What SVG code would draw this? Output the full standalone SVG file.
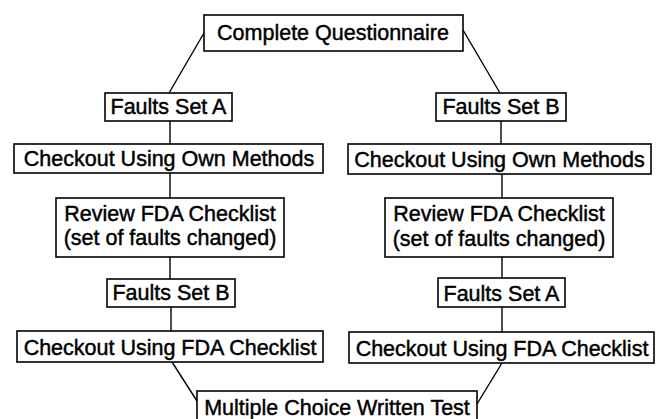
<svg xmlns="http://www.w3.org/2000/svg" width="656" height="419" viewBox="0 0 656 419">
<style>
.box{fill:#fff;stroke:#000;stroke-width:1.6}
.t{font-family:"Liberation Sans",Arial,sans-serif;font-size:21.5px;fill:#000;stroke:#000;stroke-width:0.45;text-anchor:middle}
.c{stroke:#000;stroke-width:1.4;fill:none}
</style>
<rect width="656" height="419" fill="#fff"/>
<g id="connectors">
<line class="c" x1="204" y1="33" x2="169" y2="93"/>
<line class="c" x1="463" y1="30" x2="500" y2="93"/>
<line class="c" x1="170" y1="121" x2="170" y2="144"/>
<line class="c" x1="170" y1="173" x2="170" y2="198"/>
<line class="c" x1="170" y1="257" x2="170" y2="279"/>
<line class="c" x1="171" y1="307" x2="171" y2="331"/>
<line class="c" x1="172" y1="362" x2="197" y2="401"/>
<line class="c" x1="501" y1="121" x2="501" y2="144"/>
<line class="c" x1="502" y1="174" x2="502" y2="198"/>
<line class="c" x1="502" y1="257" x2="502" y2="278"/>
<line class="c" x1="502" y1="307" x2="502" y2="332"/>
<line class="c" x1="502" y1="363" x2="477" y2="404"/>
</g>
<g id="n-questionnaire">
<rect class="box" x="204" y="15" width="259" height="36"/>
<text class="t" x="333" y="40">Complete Questionnaire</text>
</g>
<g id="n-faults-a-left">
<rect class="box" x="105" y="93" width="127" height="28"/>
<text class="t" x="168.5" y="114">Faults Set A</text>
</g>
<g id="n-faults-b-right">
<rect class="box" x="436" y="93" width="130" height="28"/>
<text class="t" x="501" y="114">Faults Set B</text>
</g>
<g id="n-own-left">
<rect class="box" x="14" y="144" width="309" height="29"/>
<text class="t" x="169" y="166">Checkout Using Own Methods</text>
</g>
<g id="n-own-right">
<rect class="box" x="348" y="144" width="303" height="30"/>
<text class="t" x="499.5" y="167">Checkout Using Own Methods</text>
</g>
<g id="n-review-left">
<rect class="box" x="56" y="198" width="228" height="59"/>
<text class="t" x="170" y="221">Review FDA Checklist</text>
<text class="t" x="170" y="245">(set of faults changed)</text>
</g>
<g id="n-review-right">
<rect class="box" x="385" y="198" width="228" height="59"/>
<text class="t" x="499" y="221">Review FDA Checklist</text>
<text class="t" x="499" y="246">(set of faults changed)</text>
</g>
<g id="n-faults-b-left">
<rect class="box" x="107" y="279" width="128" height="28"/>
<text class="t" x="171" y="300">Faults Set B</text>
</g>
<g id="n-faults-a-right">
<rect class="box" x="438" y="278" width="127" height="29"/>
<text class="t" x="501.5" y="300.5">Faults Set A</text>
</g>
<g id="n-fda-left">
<rect class="box" x="17" y="331" width="306" height="31"/>
<text class="t" x="170" y="355">Checkout Using FDA Checklist</text>
</g>
<g id="n-fda-right">
<rect class="box" x="349" y="332" width="305" height="31"/>
<text class="t" x="502" y="356">Checkout Using FDA Checklist</text>
</g>
<g id="n-test">
<rect class="box" x="197" y="391" width="280" height="32"/>
<text class="t" x="337" y="415">Multiple Choice Written Test</text>
</g>
</svg>
